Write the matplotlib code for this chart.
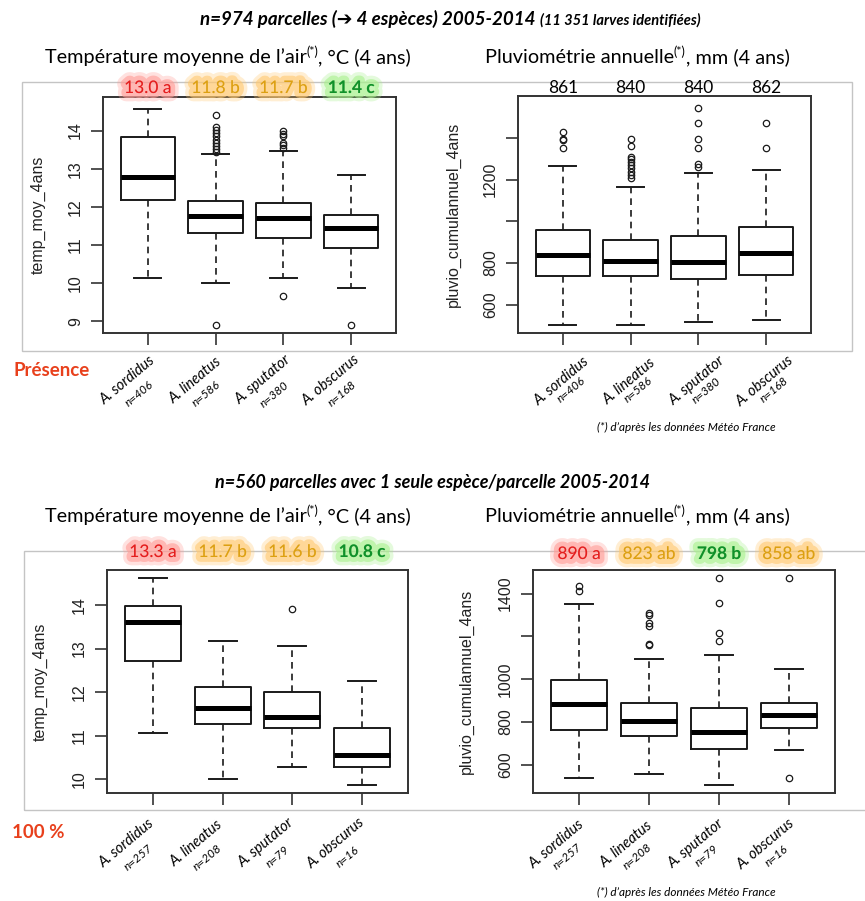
import matplotlib
matplotlib.use('Agg')
import matplotlib.pyplot as plt
import matplotlib.patheffects as pe
from matplotlib.patches import Rectangle

W, H = 865, 901
POLICE = ['Lato', 'DejaVu Sans']
R_POLICE = ['Liberation Sans', 'DejaVu Sans']

especes = ['A. sordidus', 'A. lineatus', 'A. sputator', 'A. obscurus']
n_presence = [406, 586, 380, 168]
n_seule = [257, 208, 79, 16]

# presence : temperature moyenne (4 ans)
temp_p_q1 = [12.19, 11.30, 11.19, 10.91]
temp_p_med = [12.78, 11.76, 11.70, 11.44]
temp_p_q3 = [13.82, 12.14, 12.09, 11.79]
temp_p_lo = [10.12, 10.00, 10.12, 9.86]
temp_p_hi = [14.57, 13.38, 13.47, 12.84]
temp_p_out = [[],
              [13.45, 13.52, 13.60, 13.68, 13.76, 13.85, 13.93, 14.02, 14.10, 14.41, 8.89],
              [13.55, 13.62, 13.68, 13.85, 13.92, 14.00, 9.66],
              [8.89]]

# presence : pluviometrie annuelle (4 ans)
pluv_p_q1 = [736, 736, 723, 741]
pluv_p_med = [838, 811, 805, 848]
pluv_p_q3 = [960, 912, 928, 971]
pluv_p_lo = [503, 503, 517, 528]
pluv_p_hi = [1267, 1167, 1234, 1248]
pluv_p_out = [[1430, 1393, 1390, 1352],
              [1394, 1359, 1311, 1298, 1287, 1271, 1255, 1239, 1223, 1207],
              [1542, 1471, 1394, 1351, 1274, 1263],
              [1471, 1351]]

# une seule espece : temperature
temp_s_q1 = [12.71, 11.26, 11.17, 10.28]
temp_s_med = [13.60, 11.63, 11.44, 10.56]
temp_s_q3 = [13.98, 12.12, 12.01, 11.17]
temp_s_lo = [11.07, 10.01, 10.28, 9.87]
temp_s_hi = [14.61, 13.17, 13.06, 12.25]
temp_s_out = [[], [], [13.91], []]

# une seule espece : pluviometrie
pluv_s_q1 = [761, 736, 674, 772]
pluv_s_med = [884, 806, 756, 834]
pluv_s_q3 = [997, 888, 865, 888]
pluv_s_lo = [537, 559, 508, 668]
pluv_s_hi = [1351, 1095, 1114, 1047]
pluv_s_out = [[1435, 1412],
              [1310, 1300, 1262, 1248, 1165, 1160],
              [1471, 1355, 1218, 1179],
              [1471, 539]]

# moyennes + groupes de test
lab_temp_p = ['13.0 a', '11.8 b', '11.7 b', '11.4 c']
lab_pluv_p = ['861', '840', '840', '862']
lab_temp_s = ['13.3 a', '11.7 b', '11.6 b', '10.8 c']
lab_pluv_s = ['890 a', '823 ab', '798 b', '858 ab']

couleurs = {'rouge': ('#e41e1e', '#ff9c96'),
            'orange': ('#dca012', '#ffc870'),
            'vert': ('#10902a', '#a8f08c')}


fig = plt.figure(figsize=(W / 100, H / 100), dpi=100)


def axes_px(x0, y0, x1, y1):
    return fig.add_axes([x0 / W, 1 - y1 / H, (x1 - x0) / W, (y1 - y0) / H])


def boites(ax, q1, med, q3, lo, hi, out):
    stats = [dict(med=m, q1=a, q3=b, whislo=l, whishi=h, fliers=f)
             for a, m, b, l, h, f in zip(q1, med, q3, lo, hi, out)]
    ax.bxp(stats, positions=[1, 2, 3, 4], widths=0.8, capwidths=0.4,
           manage_ticks=False,
           boxprops=dict(color='#1a1a1a', lw=1.4),
           medianprops=dict(color='black', lw=3.6, solid_capstyle='butt'),
           whiskerprops=dict(color='#1a1a1a', lw=1.2, linestyle=(0, (4, 3))),
           capprops=dict(color='#1a1a1a', lw=1.4),
           flierprops=dict(marker='o', markerfacecolor='none',
                           markeredgecolor='#1a1a1a', markersize=4.6, mew=0.9))


def habiller(ax, ylim, yticks, ylabs, ylabel, ns, off1, off2):
    ax.set_xlim(0.34, 4.66)
    ax.set_ylim(*ylim)
    ax.set_xticks([1, 2, 3, 4])
    ax.set_xticklabels([])
    ax.set_yticks(yticks)
    ax.set_yticklabels(ylabs, rotation=90, va='center', family=R_POLICE,
                       fontsize=11.5, color='#222')
    ax.tick_params(length=8.5, width=1.2, color='#333', pad=6)
    for s in ax.spines.values():
        s.set_linewidth(1.4)
        s.set_color('#333')
    ax.set_ylabel(ylabel, family=R_POLICE, fontsize=11.5, color='#222')
    ax.yaxis.set_label_coords(-0.222, 0.5)
    ax.yaxis.label.set_va('center')
    for i, (esp, n) in enumerate(zip(especes, ns)):
        ax.annotate(esp, xy=(i + 1, 0), xycoords=('data', 'axes fraction'),
                    xytext=(off1[0] * 0.72, -off1[1] * 0.72), textcoords='offset points',
                    rotation=40, ha='center', va='center', rotation_mode='anchor',
                    style='italic', fontsize=10.5, family=POLICE, annotation_clip=False)
        ax.annotate('n=%d' % n, xy=(i + 1, 0), xycoords=('data', 'axes fraction'),
                    xytext=(off2[0] * 0.72, -off2[1] * 0.72), textcoords='offset points',
                    rotation=40, ha='center', va='center', rotation_mode='anchor',
                    style='italic', fontsize=8.5, family=POLICE, annotation_clip=False)


def moyennes(ax, labels, teintes, dy):
    for i, lab in enumerate(labels):
        if teintes is None:
            c, fx, poids = 'black', [], 'normal'
        else:
            c, g = couleurs[teintes[i]]
            fx = [pe.Stroke(linewidth=12, foreground=g, alpha=0.3),
                  pe.Stroke(linewidth=7, foreground=g, alpha=0.6),
                  pe.Normal()]
            poids = 'bold' if teintes[i] == 'vert' else 'normal'
        ax.annotate(lab, xy=(i + 1, 1), xycoords=('data', 'axes fraction'),
                    xytext=(0, dy * 0.72), textcoords='offset points',
                    ha='center', va='center', fontsize=12.5, family=POLICE,
                    color=c, fontweight=poids, path_effects=fx,
                    annotation_clip=False, zorder=5)


def ligne_texte(xc, y_base, morceaux):
    r = fig.canvas.get_renderer()
    objs = []
    for txt, taille, dy, kw in morceaux:
        objs.append(fig.text(0, 1 - (y_base - dy) / H, txt, fontsize=taille,
                             va='baseline', ha='left', family=POLICE, **kw))
    larg = [o.get_window_extent(r).width for o in objs]
    x0 = xc - sum(larg) / 2
    for o, w in zip(objs, larg):
        o.set_x(x0 / W)
        x0 += w


# cadres gris
fig.add_artist(Rectangle((22 / W, 1 - 351 / H), (852 - 22) / W, (351 - 82) / H,
                         transform=fig.transFigure, fill=False, ec='#c4c4c4', lw=1, zorder=-1))
fig.add_artist(Rectangle((24 / W, 1 - 810 / H), (900 - 24) / W, (810 - 551) / H,
                         transform=fig.transFigure, fill=False, ec='#c4c4c4', lw=1, zorder=-1))

# panneau haut gauche
ax1 = axes_px(103, 97, 396, 333)
boites(ax1, temp_p_q1, temp_p_med, temp_p_q3, temp_p_lo, temp_p_hi, temp_p_out)
habiller(ax1, (8.69, 14.88), [9, 10, 11, 12, 13, 14], ['9', '10', '11', '12', '13', '14'],
         'temp_moy_4ans', n_presence, (-20, 47), (-9, 61))
moyennes(ax1, lab_temp_p, ['rouge', 'orange', 'orange', 'vert'], 9)

# panneau haut droit
ax2 = axes_px(518, 96, 811, 333)
boites(ax2, pluv_p_q1, pluv_p_med, pluv_p_q3, pluv_p_lo, pluv_p_hi, pluv_p_out)
habiller(ax2, (465, 1601), [600, 800, 1000, 1200, 1400], ['600', '800', '', '1200', ''],
         'pluvio_cumulannuel_4ans', n_presence, (-1, 48), (8, 57))
moyennes(ax2, lab_pluv_p, None, 8)

# panneau bas gauche
ax3 = axes_px(107, 570, 408, 793)
boites(ax3, temp_s_q1, temp_s_med, temp_s_q3, temp_s_lo, temp_s_hi, temp_s_out)
habiller(ax3, (9.69, 14.80), [10, 11, 12, 13, 14], ['10', '11', '12', '13', '14'],
         'temp_moy_4ans', n_seule, (-26, 50), (-15, 64))
moyennes(ax3, lab_temp_s, ['rouge', 'orange', 'orange', 'vert'], 18)

# panneau bas droit
ax4 = axes_px(533, 570, 835, 793)
boites(ax4, pluv_s_q1, pluv_s_med, pluv_s_q3, pluv_s_lo, pluv_s_hi, pluv_s_out)
habiller(ax4, (469, 1510), [600, 800, 1000, 1200, 1400], ['600', '800', '1000', '', '1400'],
         'pluvio_cumulannuel_4ans', n_seule, (-23, 51), (-12, 63))
moyennes(ax4, lab_pluv_s, ['rouge', 'orange', 'vert', 'orange'], 16)

# titres
gi = dict(fontweight='bold', style='italic')
ligne_texte(450, 25, [('n=974 parcelles (\u2794 4 espèces) 2005-2014 ', 13.5, 0, gi),
                      ('(11 351 larves identifiées)', 10.5, 0, gi)])
ligne_texte(433, 488, [('n=560 parcelles avec 1 seule espèce/parcelle 2005-2014', 13, 0, gi)])

for yb in (63, 522):
    ligne_texte(228, yb, [('Température moyenne de l\u2019air', 14.3, 0, {}),
                          ('(*)', 9, 7, {}),
                          (', °C (4 ans)', 14.3, 0, {})])
    ligne_texte(637, yb, [('Pluviométrie annuelle', 14.3, 0, {}),
                          ('(*)', 9, 7, {}),
                          (', mm (4 ans)', 14.3, 0, {})])

fig.text(52 / W, 1 - 370 / H, 'Présence', color='#e8401c', fontsize=13.5,
         fontweight='bold', ha='center', va='center', family=POLICE)
fig.text(38 / W, 1 - 832 / H, '100 %', color='#e8401c', fontsize=13.5,
         fontweight='bold', ha='center', va='center', family=POLICE)

for yf in (427, 892):
    fig.text(686 / W, 1 - yf / H, '(*) d\u2019après les données Météo France',
             style='italic', fontsize=8.5, ha='center', va='center', family=POLICE)

fig.savefig('out.png', dpi=100)
